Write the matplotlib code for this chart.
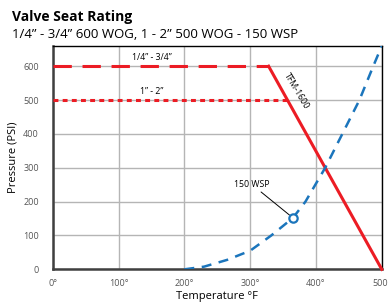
import numpy as np
import matplotlib.pyplot as plt

# Data
temp_ticks = [0, 100, 200, 300, 400, 500]
temp_labels = ['0°', '100°', '200°', '300°', '400°', '500°']
psi_ticks = [0, 100, 200, 300, 400, 500, 600]

# TFM-1600 seat rating
small_temp = [0, 328]
small_psi = [600, 600]
large_temp = [0, 356]
large_psi = [500, 500]
tfm_temp = [328, 500]
tfm_psi = [600, 0]

# saturated steam curve
steam_temp = [200, 230, 265, 300, 332, 365, 384, 414, 440, 466, 487, 500]
steam_psi = [0, 8, 28, 55, 100, 152, 200, 300, 400, 500, 600, 660]
wsp_point = (365, 152)

red = '#ec1c24'
blue = '#1b75bc'

plt.rcParams['font.family'] = ['Open Sans', 'DejaVu Sans']

fig = plt.figure(figsize=(3.88, 3.04), dpi=100)
ax = fig.add_axes([0.136, 0.114, 0.848, 0.735])

ax.plot(small_temp, small_psi, color=red, lw=2.2, dashes=(6, 3.5), zorder=3)
ax.plot(large_temp, large_psi, color=red, lw=2.2, dashes=(1.6, 1.4), zorder=3)
ax.plot(tfm_temp, tfm_psi, color=red, lw=2.2, zorder=3, clip_on=False)
ax.plot(steam_temp, steam_psi, color=blue, lw=1.8, dashes=(4, 3), zorder=3)
ax.plot(*wsp_point, 'o', ms=6, mfc='white', mec=blue, mew=1.6, zorder=4)

ax.text(150, 612, '1/4” - 3/4”', fontsize=6.3, ha='center', va='bottom')
ax.text(150, 512, '1” - 2”', fontsize=6.3, ha='center', va='bottom')
ax.text(370, 528, 'TFM-1600', fontsize=6.3, ha='center', va='center', rotation=-59)
ax.annotate('150 WSP', xy=wsp_point, xytext=(330, 250), fontsize=6.3, ha='right', va='center',
            arrowprops=dict(arrowstyle='-', color='black', lw=0.7, shrinkA=0, shrinkB=3))

ax.set_xlim(0, 500)
ax.set_ylim(0, 660)
ax.set_xticks(temp_ticks)
ax.set_xticklabels(temp_labels)
ax.set_yticks(psi_ticks)
ax.tick_params(length=0, labelsize=6.5, colors='#555555')
ax.tick_params(axis='y', pad=10)
ax.tick_params(axis='x', pad=7)
ax.grid(color='#b5b5b5', lw=1)
ax.set_axisbelow(True)
for s in ['left', 'bottom']:
    ax.spines[s].set_color('#404040')
    ax.spines[s].set_linewidth(1.8)
for s in ['top', 'right']:
    ax.spines[s].set_color('black')
    ax.spines[s].set_linewidth(1.0)

ax.set_xlabel('Temperature °F', fontsize=8, labelpad=2)
ax.set_ylabel('Pressure (PSI)', fontsize=8, labelpad=3)

fig.text(0.031, 0.945, 'Valve Seat Rating', fontsize=10, fontweight='bold', va='center')
fig.text(0.031, 0.885, '1/4” - 3/4” 600 WOG, 1 - 2” 500 WOG - 150 WSP', fontsize=9.5, va='center')

fig.savefig('out.png', dpi=100)
